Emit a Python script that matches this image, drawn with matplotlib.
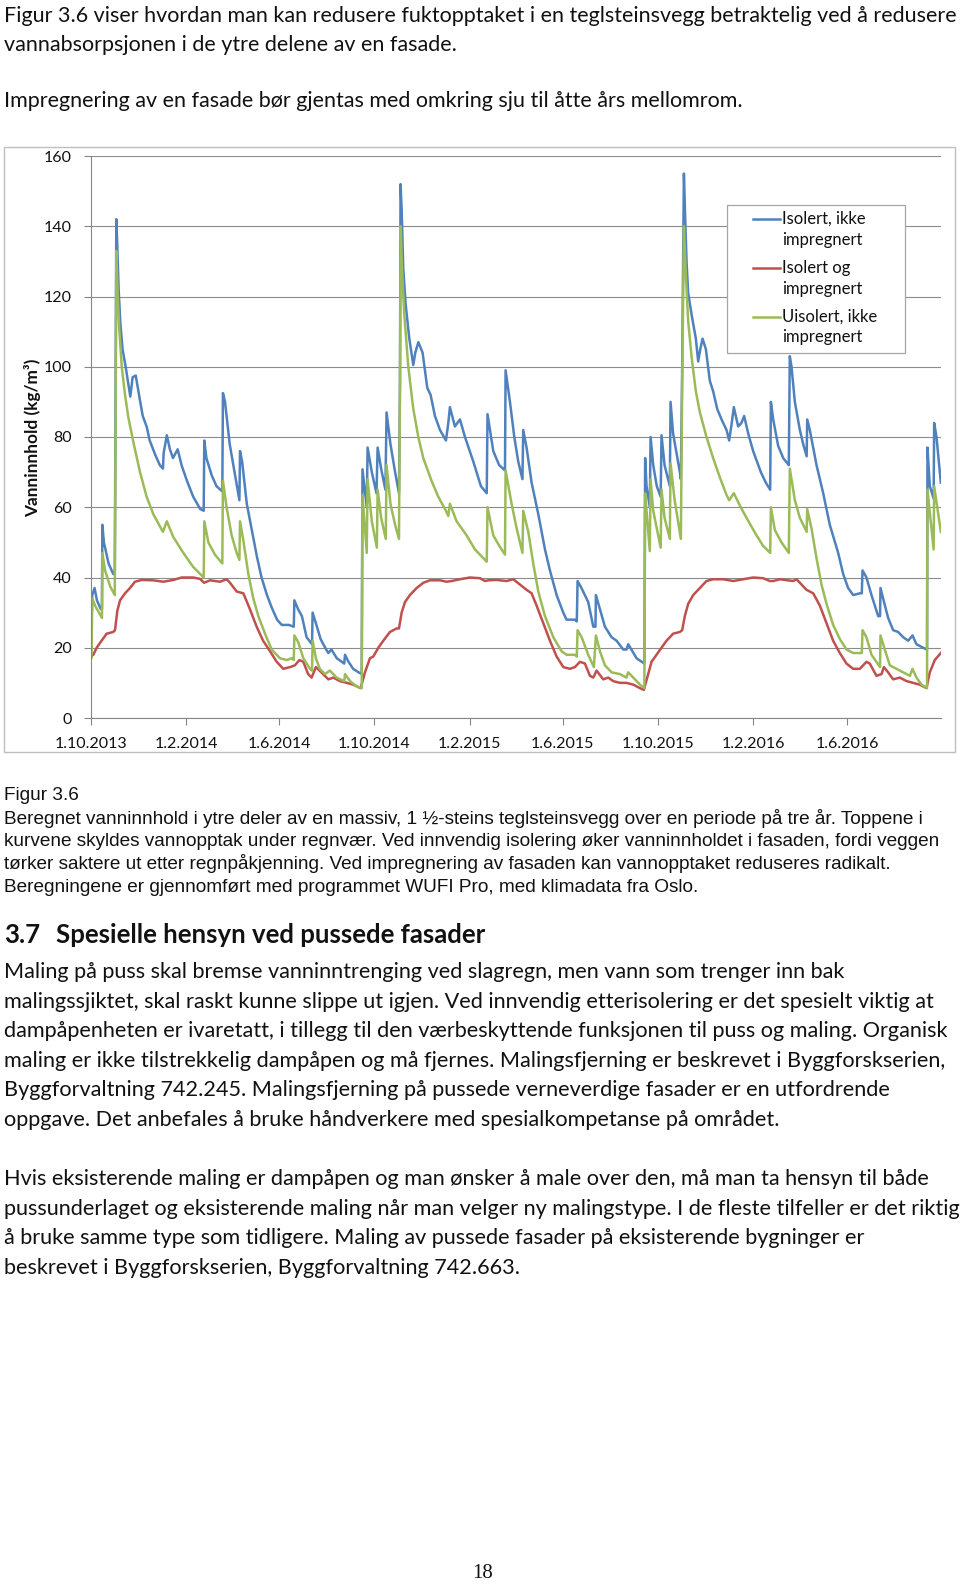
import numpy as np
import matplotlib
matplotlib.use("Agg")
import matplotlib.pyplot as plt
import matplotlib.dates as mdates
from matplotlib.patches import Rectangle
from matplotlib.lines import Line2D
from matplotlib.ticker import FuncFormatter

# --- data: (days after 1.10.2013, kg/m3) ---
blue = [(0,17.5),(2,35),(5,37),(8,33.5),(13,31),(14.5,31),(15,55),(17,50),(23,44),(29,41),(31,41),
        (32,92),(33,142),(34,136),(36,122),(38,113),(41,105),(45,100),(51,91.5),(54,97),(58,97.5),
        (63,91),(67,86),(72,83),(76,79),(83,75),(89,72),(93,71),(94,75.5),(98,80.5),(102,76.5),
        (106,74),(112,76.5),(117,72),(124,67.5),(132,63),(141,59.5),(145.5,59),(146.3,79),(149,74),
        (156,69),(162,66),(169.5,64.5),(170.3,92.5),(173,90),(179,78),(186,69),(191.5,62),(192.3,76),
        (195,73),(201,61),(207,54),(214,46),(220,40),(227,35),(233,31.5),(240,28),(246,26.5),
        (255,26.5),(261.5,26),(262.3,33.5),(267,31),(272,29),(278,23),(285,21),(285.8,30),(290,27),
        (296,22.5),(302,20),(306,18.5),(310,19.5),(317,17),(326.5,15.5),(327.5,18),(332,16),(338,14),
        (345,13),(349,12.5),
        (350,70.8),(355.5,60),(356.6,77),(362,70),(368,64),(369.5,77),(374,71),(379.5,65),(381,87),
        (386,78),(392,70),(397,64),(398.3,95),(399,152),(400.4,145),(402.5,128),(405.5,118),
        (410.3,108),(415.4,100.5),(418,104),(421.9,107),(427.4,104),(433.4,94),(437.7,92),(443.3,86),
        (449.8,82),(457.5,79),(460.5,84),(462.6,88.5),(469,83),(475.5,85),(482,80),(492.7,73),
        (502.5,66),(510,64),(511,86.5),(518.4,76),(526,72),(533.5,70.5),(534.3,99),(539.9,90),
        (545.5,80),(550.6,73),(556,68),(557,82),(561.3,77),(567.8,67),(576.4,58),(585,48),(591.4,42),
        (600,35),(608.6,30),(612.8,28),(623.6,28),(626,27.5),(627,39),(632,37),(640.7,33),(647.2,26),
        (650,26),(650.6,35),(655.8,31),(662.2,26),(670.8,23),(677.2,22),(685.8,19.5),(690,19.5),
        (692.2,21),(703,17),(713,15.5),
        (714,74),(715.8,66),(720,60),(721,80),(724.4,72),(729,66),(734,63),(735.1,80.5),(739,72),
        (745.8,66),(746.7,90),(750,81),(758.7,70),(760,68),(761.7,100),(763.9,155),(765.2,145),
        (767.3,130),(769.4,121),(773.7,115),(779.3,108),(782.3,101.5),(785,105),(787.9,108),
        (792.2,105),(797.3,96),(801.6,93),(806.8,88),(812.4,85),(818.8,82),(822.2,79),(825.2,83.5),
        (828.2,88.5),(833.8,83),(838,84),(841.5,86),(846.7,81),(853.1,76),(863,70),(869.4,67),
        (875,65),(875.9,90),(878.9,85),(885.3,77.5),(891.8,74),(899,72),(900.3,103),(902.5,100),
        (906.8,90),(913.2,82),(917.5,78),(922,74.5),(922.7,85),(926.1,82),(934.7,72),(943.3,64),
        (951.8,55),(962.6,47),(969,41),(975.4,37),(981.9,35),(990.5,35.5),(993,35.5),(993.9,42),
        (999,40),(1005.5,35),(1014.1,29),(1016.5,29),(1017.1,37),(1020.5,34),(1026.9,28.5),
        (1033.4,25),(1039.8,24.5),(1046.3,23),(1052.7,22),(1058.3,23.5),(1063.4,21),(1072,20),
        (1077,19.5),(1077.6,77),(1080.6,66),(1085.5,62.5),(1086.2,84),(1089.2,80),(1094.8,67)]

red = [(0,17.5),(3.4,18),(7.7,20),(14,22),(20.6,24),(29,24.5),(31.3,25),(34.3,30.5),(37.8,33.5),
       (44.2,35.5),(50.6,37),(57,38.8),(65.7,39.3),(80.7,39.2),(93.6,38.8),(106.4,39.3),(117,40),
       (132,40),(140.8,39.6),(146,38.5),(153.6,39.2),(166.5,38.8),(175,39.5),(179.4,38.5),(188,36),
       (196.6,35.5),(205,31),(213.7,26),(222,22),(231,19),(239.5,16),(248,14),(256.7,14.5),(263,15),
       (268.7,16.5),(273.8,16),(280,12.5),(284.5,11.5),(290,14.5),(297,13),(306,11),(312.4,11.5),
       (321,10.5),(330,10),(338,9.5),(347.6,8.5),
       (353.2,13),(359.6,17),(363.9,17.5),(370.4,20),(376.8,22),(385.4,24.5),(394,25.5),(397,25.5),
       (400.4,30),(404.7,33),(411.1,35),(419.7,37),(428.3,38.5),(436.9,39.2),(449.8,39.2),
       (458.3,38.8),(464.8,39),(475.5,39.5),(488.4,40),(501.3,39.8),(507.7,39),(512,39.2),
       (522.7,39.3),(535.6,39),(544.2,39.5),(552.8,38),(561.3,36.5),(567.8,35.5),(574.2,32),
       (582.8,27),(591.4,22),(600,17.5),(608.6,14.5),(617.1,14),(623.6,14.5),(630,16),(636.5,15.5),
       (642.9,12),(647.2,11.5),(651.5,13.5),(660,11),(666.5,11.5),(672.9,10.5),(681.5,10),(690,10),
       (698.7,9.5),(707.3,8.5),(712.4,8),
       (718,12.5),(722.2,16),(728.7,18),(735.1,20),(741.5,22),(750.1,24),(758.7,24.5),(761.7,25),
       (765.1,29),(769.4,32.5),(775.9,35),(784.5,37),(793,39),(801.6,39.5),(814.5,39.5),(827.4,39),
       (840.3,39.5),(853.1,40),(866,39.8),(874.6,39),(878.9,39),(887.5,39.5),(904.6,39),
       (908.9,39.5),(915.4,38),(921.8,36.5),(930.4,35.5),(939,32),(947.6,27),(956.1,22),
       (964.7,18.5),(973.3,15.5),(981.9,14),(990.5,14),(999,16),(1003.3,15.5),(1011.9,12),
       (1018.4,12.5),(1021.4,14.5),(1026.9,13),(1033.4,11),(1042,11.5),(1050.6,10.5),(1059.2,10),
       (1067.7,9.5),(1076.3,8.5),(1080.6,13),(1087,16.5),(1094.8,18.5)]

green = [(0,17.5),(1,17),(2,34),(5.6,32),(12,29.5),(14.5,28.5),(15,47),(18.5,42),(25,37.5),(31,35),
         (32,79),(33,133),(34.8,120),(37,110),(40,100),(44.2,92),(48.5,85.5),(55,78.5),(63.5,70),
         (72,63),(80.7,58),(89.3,54.5),(93,53),(98,56),(106.4,51.5),(119.3,47),(132,43),(145.5,40),
         (146.3,56),(151.5,50),(160,46.5),(169.5,44),(170.3,67.5),(175,60),(181.5,52),(188,47),
         (191.5,45),(192.3,56),(196.6,50.5),(203,41),(209.4,34),(215.9,29),(224.5,24),(233,19.5),
         (243.8,17),(252.4,16.5),(258.8,17),(261.5,16.5),(262.3,23.5),(267.4,21.5),(273.8,17),
         (282.4,14),(285,13.5),(285.8,22),(290,17),(295,14),(301.7,12.5),(308,13.5),(316.7,11.5),
         (326.5,10.5),(327.5,12.5),(334,10.5),(342.5,9),(349,8.5),
         (350,63.5),(355.5,47),(356.6,68),(362,56),(368.5,48.5),(369.5,65),(374,57),(380,51),(381,72),
         (386,61),(392,55),(397,51),(398.3,95),(399.2,140),(400.8,128),(403.8,115),(409,100),
         (415.4,88),(421.9,80),(428.3,74),(439,67.5),(447.6,63),(457.5,59),(460.5,57.5),(462.6,61),
         (471.2,56),(484.1,52),(494.8,48),(510,44.5),(511,60),(518.4,52),(526.2,49),(533.5,46.5),
         (534.3,70.5),(542,61),(548.5,54),(556,47),(557,59),(563.5,53),(569.9,44),(576.4,36),(585,29),
         (595.7,23),(606.4,19),(612.8,18),(623.6,18),(626,17.5),(627,25),(632.2,23),(640.7,18),
         (648,14.5),(650.6,23.5),(655.8,19),(662.2,15),(670.8,13),(681.5,12.5),(690,11.5),(692.2,13),
         (694.4,12.5),(707.3,9.5),(713,8.5),
         (714,64),(720,47.5),(721,68),(724.4,59),(734,48.5),(735.1,65),(739,57),(745.8,51),
         (746.7,72.5),(752,62),(760,51),(761.7,95),(763.9,140),(766,128),(769.4,113),(773.7,103),
         (779.3,93),(784.5,87),(793,80),(801.6,74),(810.2,68.5),(818.8,63.5),(822.2,62),(828.2,64),
         (836,60.5),(844.5,57),(857.4,52),(866,49),(875,47),(875.9,60),(881,53.5),(889.6,50),(899,47),
         (900.3,71),(906.8,62),(913.2,57),(922,53),(922.7,59.5),(928.2,54),(934.7,45.5),(941.1,38),
         (947.6,32.5),(956.1,26.5),(964.7,22.5),(973.3,19.5),(981.9,18.5),(993,18.5),(993.9,25),
         (999,23),(1005.5,18),(1016.5,14.5),(1017.1,23.5),(1022.6,19.5),(1029.1,15),(1037.7,14),
         (1046.3,13),(1054.9,12),(1058.3,14),(1063.4,11.5),(1069.9,9.5),(1077,8.5),(1077.6,65),
         (1085.5,48),(1086.2,66),(1094.8,53)]

series = [("Isolert, ikke\nimpregnert", blue, "#4F81BD"),
          ("Isolert og\nimpregnert", red, "#C0504D"),
          ("Uisolert, ikke\nimpregnert", green, "#9BBB59")]

top_lines = ["Figur 3.6 viser hvordan man kan redusere fuktopptaket i en teglsteinsvegg betraktelig ved å redusere",
             "vannabsorpsjonen i de ytre delene av en fasade.",
             "Impregnering av en fasade bør gjentas med omkring sju til åtte års mellomrom."]
caption_lines = ["Figur 3.6",
                 "Beregnet vanninnhold i ytre deler av en massiv, 1 ½-steins teglsteinsvegg over en periode på tre år. Toppene i",
                 "kurvene skyldes vannopptak under regnvær. Ved innvendig isolering øker vanninnholdet i fasaden, fordi veggen",
                 "tørker saktere ut etter regnpåkjenning. Ved impregnering av fasaden kan vannopptaket reduseres radikalt.",
                 "Beregningene er gjennomført med programmet WUFI Pro, med klimadata fra Oslo."]
body_lines = ["Maling på puss skal bremse vanninntrenging ved slagregn, men vann som trenger inn bak",
              "malingssjiktet, skal raskt kunne slippe ut igjen. Ved innvendig etterisolering er det spesielt viktig at",
              "dampåpenheten er ivaretatt, i tillegg til den værbeskyttende funksjonen til puss og maling. Organisk",
              "maling er ikke tilstrekkelig dampåpen og må fjernes. Malingsfjerning er beskrevet i Byggforskserien,",
              "Byggforvaltning 742.245. Malingsfjerning på pussede verneverdige fasader er en utfordrende",
              "oppgave. Det anbefales å bruke håndverkere med spesialkompetanse på området.",
              "",
              "Hvis eksisterende maling er dampåpen og man ønsker å male over den, må man ta hensyn til både",
              "pussunderlaget og eksisterende maling når man velger ny malingstype. I de fleste tilfeller er det riktig",
              "å bruke samme type som tidligere. Maling av pussede fasader på eksisterende bygninger er",
              "beskrevet i Byggforskserien, Byggforvaltning 742.663."]

# --- page ---
W, H = 960, 1584
fig = plt.figure(figsize=(9.6, 15.84), dpi=100)
fig.patch.set_facecolor("white")
renderer = fig.canvas.get_renderer()
CAL = ["Lato", "DejaVu Sans"]
ARI = ["Liberation Sans", "DejaVu Sans"]
TXT = "#111111"


def fx(x):
    return x / W


def fy(y):
    return 1 - y / H


def fit(text, width, **kw):
    # font size that makes text this many pixels wide
    t = fig.text(0, 0, text, fontsize=10, **kw)
    w = t.get_window_extent(renderer).width
    t.remove()
    return 10 * width / w


def put(x, y, s, **kw):
    fig.text(fx(x), fy(y), s, va="center", ha=kw.pop("ha", "left"), color=kw.pop("color", TXT), **kw)


fs_top = fit(top_lines[0], 950, family=CAL)
for y, s in zip([16, 45, 101], top_lines):
    put(4, y, s, fontsize=fs_top, family=CAL)

fs_cap = fit(caption_lines[1], 928, family=ARI)
for i, s in enumerate(caption_lines):
    put(4, 795 + i * 23, s, fontsize=fs_cap, family=ARI)

fs_h = fit("Spesielle hensyn ved pussede fasader", 431, family=CAL, weight="bold")
put(4, 935, "3.7", fontsize=fs_h, family=CAL, weight="bold")
put(55.6, 935, "Spesielle hensyn ved pussede fasader", fontsize=fs_h, family=CAL, weight="bold")

fs_body = fit(body_lines[2], 942, family=CAL)
for i, s in enumerate(body_lines):
    if s:
        put(4, 972 + i * 29.6, s, fontsize=fs_body, family=CAL)

put(483, 1574, "18", fontsize=15, family=["Liberation Serif", "DejaVu Serif"], ha="center")

# --- chart ---
fig.add_artist(Rectangle((fx(4), fy(752)), fx(951), (752 - 147) / H, transform=fig.transFigure,
                         fill=False, ec="#bfbfbf", lw=1.0, zorder=0.5))

ax = fig.add_axes([fx(90.7), fy(718), fx(941 - 90.7), (718 - 156) / H])
base = np.datetime64("2013-10-01T00:00")

for label, pts, col in series:
    d, v = np.array(pts).T
    t = base + np.round(d * 24).astype(int).astype("timedelta64[h]")
    ax.plot(t, v, color=col, lw=1.8, solid_joinstyle="round")

ax.set_xlim(base, base + np.timedelta64(1095 * 24, "h"))
ax.set_ylim(0, 160)
ax.set_yticks(np.arange(0, 161, 20))
ax.yaxis.grid(True, color="#8c8c8c", lw=0.8)
ax.set_axisbelow(True)
ax.xaxis.set_major_locator(mdates.MonthLocator(bymonth=[2, 6, 10], bymonthday=1))
ax.xaxis.set_major_formatter(FuncFormatter(
    lambda val, pos: "{0.day}.{0.month}.{0.year}".format(mdates.num2date(val))))
for s in ["top", "right"]:
    ax.spines[s].set_visible(False)
for s in ["left", "bottom"]:
    ax.spines[s].set_color("#868686")
    ax.spines[s].set_linewidth(0.8)

fs_tick = fit("1.10.2013", 72.7, family=CAL)
ax.tick_params(axis="both", direction="out", length=5, color="#868686", width=0.8,
               labelsize=fs_tick, labelcolor=TXT, pad=8.5)
for lab in ax.get_xticklabels() + ax.get_yticklabels():
    lab.set_family(CAL)

fs_yl = fit("Vanninnhold (kg/m³)", 158, family=CAL, weight="bold")
fig.text(fx(32.3), fy(438), "Vanninnhold (kg/m³)", rotation=90, va="center", ha="center",
         fontsize=fs_yl, family=CAL, weight="bold", color=TXT)

# legend box
fig.add_artist(Rectangle((fx(726.7), fy(352.7)), fx(905 - 726.7), (352.7 - 205) / H,
                         transform=fig.transFigure, fc="white", ec="#a6a6a6", lw=0.9, zorder=5))
fs_leg = fit("Uisolert, ikke", 95.7, family=CAL)
for i, (label, pts, col) in enumerate(series):
    y0 = 219 + i * 48.8
    fig.add_artist(Line2D([fx(753), fx(780)], [fy(y0), fy(y0)], transform=fig.transFigure,
                          color=col, lw=1.8, zorder=6))
    l1, l2 = label.split("\n")
    fig.text(fx(782), fy(y0), l1, va="center", fontsize=fs_leg, family=CAL, color=TXT, zorder=6)
    fig.text(fx(782), fy(y0 + 20.8), l2, va="center", fontsize=fs_leg, family=CAL, color=TXT, zorder=6)

fig.savefig("out.png", dpi=100)
